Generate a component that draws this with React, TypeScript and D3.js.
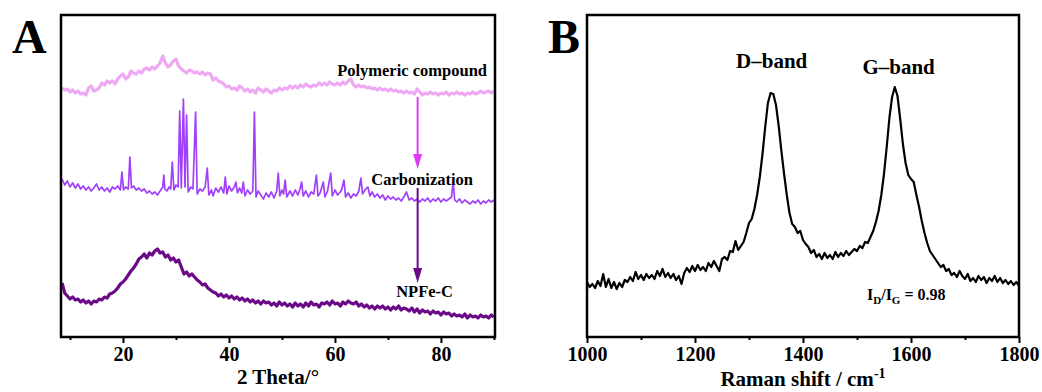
import React, { useEffect, useRef } from 'react';
import * as d3 from 'd3';

// XRD patterns, 2θ from 8.5° in 0.5° steps (a.u.)
const xrdStart = 8.5;
const xrdStep = 0.5;

const polymeric = [
  249, 247, 248, 245, 247, 244, 246, 243, 244, 242,
  249, 251, 246, 247, 249, 254, 252, 256, 254, 256,
  253, 258, 261, 263, 258, 260, 266, 264, 263, 266,
  264, 268, 269, 267, 270, 268, 271, 274, 281, 274,
  270, 272, 276, 278, 271, 268, 266, 264, 267, 266,
  264, 265, 263, 265, 262, 264, 263, 257, 259, 256,
  255, 253, 250, 251, 248, 249, 247, 251, 249, 246,
  248, 245, 247, 244, 249, 247, 245, 248, 246, 244,
  247, 246, 249, 247, 249, 248, 251, 249, 251, 249,
  252, 250, 253, 251, 250, 252, 251, 254, 252, 254,
  252, 255, 253, 252, 254, 252, 255, 253, 256, 258,
  252, 250, 252, 250, 251, 249, 250, 248, 249, 247,
  249, 247, 248, 246, 248, 246, 247, 245, 246, 244,
  246, 244, 245, 243, 248, 245, 242, 244, 243, 245,
  243, 244, 242, 244, 243, 245, 242, 244, 243, 245,
  243, 244, 242, 244, 243, 245, 243, 244, 246, 244,
  245, 246, 244, 246,
];

const npfec = [
  54, 44, 41, 38, 40, 37, 38, 35, 37, 34,
  36, 33, 36, 35, 38, 37, 40, 39, 43, 44,
  46, 49, 53, 55, 58, 62, 66, 69, 73, 78,
  80, 83, 79, 84, 82, 86, 88, 84, 85, 80,
  82, 77, 79, 75, 77, 70, 63, 65, 61, 63,
  60, 57, 55, 52, 53, 49, 47, 45, 44, 41,
  43, 40, 42, 39, 41, 38, 40, 37, 39, 36,
  38, 35, 37, 34, 36, 33, 36, 34, 35, 32,
  34, 31, 35, 32, 34, 31, 33, 30, 34, 31,
  33, 30, 34, 31, 35, 32, 33, 30, 34, 33,
  35, 32, 36, 33, 34, 31, 35, 33, 36, 34,
  33, 35, 31, 33, 30, 32, 29, 31, 28, 31,
  29, 31, 28, 30, 27, 30, 28, 31, 27, 29,
  28, 26, 29, 25, 28, 24, 27, 25, 26, 23,
  26, 24, 25, 22, 25, 23, 24, 21, 23, 21,
  22, 20, 23, 19, 22, 20, 21, 19, 22, 20,
  21, 19, 22, 20,
];

// carbonized intermediate: [2θ, intensity], sharp reflections
const carbonization = [
  [8.5, 158], [9, 152], [9.5, 156], [10, 150], [10.5, 154], [11, 149], [11.5, 153], [12, 148], [12.5, 151], [13, 147],
  [13.5, 150], [14, 146], [14.5, 149], [15, 153], [15.5, 147], [16, 150], [16.5, 146], [17, 149], [17.5, 145], [18, 150],
  [18.5, 148], [19, 151], [19.5, 147], [19.8, 165], [20.1, 147], [20.5, 150], [21, 148], [21.3, 180], [21.6, 149], [22, 151],
  [22.5, 147], [23, 149], [23.5, 146], [24, 148], [24.5, 144], [25, 146], [25.5, 143], [26, 145], [26.5, 142], [27, 146],
  [27.5, 150], [27.7, 162], [27.9, 148], [28.3, 146], [28.7, 150], [29.0, 148], [29.3, 175], [29.6, 147], [30.0, 152], [30.4, 150],
  [30.7, 226], [31.0, 149], [31.4, 238], [31.7, 150], [32.0, 222], [32.3, 145], [32.8, 150], [33.2, 148], [33.7, 225], [34.0, 143],
  [34.5, 148], [35.0, 146], [35.5, 150], [35.9, 169], [36.2, 142], [36.7, 147], [37.0, 141], [37.5, 149], [38.0, 145], [38.5, 150],
  [39.0, 144], [39.3, 160], [39.6, 143], [40.0, 151], [40.5, 146], [41.0, 150], [41.3, 155], [41.6, 144], [42.0, 149], [42.4, 144],
  [42.7, 155], [43.0, 141], [43.5, 147], [44.0, 143], [44.5, 146], [44.8, 225], [45.1, 140], [45.5, 146], [46.0, 142], [46.5, 138],
  [47.0, 144], [47.5, 140], [48.0, 145], [48.5, 139], [49.0, 146], [49.3, 164], [49.6, 141], [50.0, 147], [50.3, 143], [50.6, 157],
  [50.9, 140], [51.5, 146], [52.0, 141], [52.5, 147], [53.0, 142], [53.4, 148], [53.7, 155], [54.0, 141], [54.5, 146], [55.0, 140],
  [55.5, 145], [56.0, 143], [56.5, 162], [56.8, 141], [57.2, 144], [57.8, 155], [58.1, 140], [58.6, 146], [59.2, 164], [59.5, 141],
  [60.0, 147], [60.5, 142], [61.0, 145], [61.3, 148], [61.7, 157], [62.0, 140], [62.5, 144], [63.0, 139], [63.5, 143], [64.0, 141],
  [64.5, 146], [64.9, 159], [65.2, 143], [65.8, 148], [66.2, 150], [66.6, 141], [67.0, 145], [67.5, 140], [68.0, 143], [68.5, 139],
  [69.0, 142], [69.5, 137], [70.0, 141], [70.5, 138], [71.0, 140], [71.5, 137], [72.0, 139], [72.5, 136], [73.0, 140], [73.5, 145],
  [74.0, 137], [74.5, 139], [75.0, 136], [75.5, 138], [76.0, 135], [76.5, 138], [77.0, 136], [77.5, 139], [78.0, 135], [78.5, 138],
  [79.0, 136], [79.5, 139], [80.0, 135], [80.5, 138], [81.0, 136], [81.5, 138], [82.0, 140], [82.3, 155], [82.6, 137], [83.0, 135],
  [83.5, 138], [84.0, 134], [84.5, 137], [85.0, 135], [85.5, 133], [86.0, 136], [86.5, 134], [87.0, 137], [87.5, 133], [88.0, 136],
  [88.5, 134], [89.0, 137], [89.5, 135], [90.0, 137],
];

// Raman spectrum, 1000-1800 cm-1 in 5 cm-1 steps (a.u.)
const ramanStart = 1000;
const ramanStep = 5;
const raman = [
  55, 50, 53, 49, 56, 51, 63, 50, 58, 49,
  55, 48, 54, 50, 57, 55, 60, 56, 65, 58,
  62, 57, 63, 59, 62, 58, 66, 61, 68, 60,
  64, 59, 63, 57, 61, 53, 64, 69, 65, 71,
  66, 72, 67, 70, 66, 74, 70, 76, 71, 66,
  78, 80, 77, 86, 85, 96, 87, 91, 95, 104,
  114, 118, 128, 142, 160, 183, 210, 234, 244, 243,
  232, 211, 186, 163, 142, 124, 113, 110, 104, 106,
  97, 93, 90, 84, 87, 80, 83, 78, 84, 79,
  82, 78, 85, 80, 84, 81, 86, 82, 85, 88,
  86, 91, 89, 95, 94, 100, 106, 115, 126, 142,
  163, 190, 219, 240, 250, 241, 218, 193, 174, 162,
  158, 155, 142, 130, 116, 104, 94, 86, 82, 78,
  74, 70, 72, 66, 68, 62, 64, 60, 66, 61,
  58, 63, 56, 59, 55, 61, 57, 60, 54, 59,
  56, 61, 55, 59, 54, 57, 53, 56, 52, 55,
  51,
];

const xrdMajor = [20, 40, 60, 80];
const xrdMinor = [10, 30, 50, 70, 90];
const ramanMajor = [1000, 1200, 1400, 1600, 1800];
const ramanMinor = [1100, 1300, 1500, 1700];

const FONT = 'Liberation Serif, Times New Roman, serif';

const App = () => {
  const svgRef = useRef<SVGSVGElement | null>(null);

  useEffect(() => {
    if (!svgRef.current) return;
    const svg = d3.select(svgRef.current);
    svg.selectAll('*').remove();

    const top = 15;
    const bottom = 337;

    const setFont = (sel, size) =>
      sel.attr('font-family', FONT)
        .attr('font-weight', 'bold')
        .attr('font-size', size)
        .style('font-family', FONT)
        .style('font-weight', 'bold')
        .style('font-size', `${size}px`);

    const drawFrame = (x, major, minor, title, titleY) => {
      const [x0, x1] = x.range();
      const g = svg.append('g');
      g.append('g')
        .attr('transform', `translate(0,${bottom})`)
        .call(d3.axisBottom(x).tickValues(minor).tickSize(3).tickFormat(() => ''))
        .call((a) => a.select('.domain').remove())
        .call((a) => a.selectAll('line').attr('stroke', '#000').attr('stroke-width', 2));
      const ax = g.append('g')
        .attr('transform', `translate(0,${bottom})`)
        .call(d3.axisBottom(x).tickValues(major).tickSize(6).tickPadding(4).tickFormat(d3.format('d')));
      ax.attr('font-family', FONT);
      ax.select('.domain').remove();
      ax.selectAll('line').attr('stroke', '#000').attr('stroke-width', 2);
      setFont(ax.selectAll('text').attr('fill', '#000'), 20);
      g.append('rect')
        .attr('x', x0)
        .attr('y', top)
        .attr('width', x1 - x0)
        .attr('height', bottom - top)
        .attr('fill', 'none')
        .attr('stroke', '#000')
        .attr('stroke-width', 2.5);
      const t = g.append('text')
        .attr('x', (x0 + x1) / 2)
        .attr('y', titleY)
        .attr('text-anchor', 'middle');
      setFont(t, 21);
      title(t);
    };

    const label = (x, y, txt, size, anchor = 'start') =>
      setFont(
        svg.append('text').attr('x', x).attr('y', y).attr('text-anchor', anchor).text(txt),
        size,
      );

    // ---------- panel A ----------
    const xA = d3.scaleLinear().domain([8.3, 90.2]).range([61, 495]);
    const yA = d3.scaleLinear().domain([0, 322]).range([bottom, top]);

    const idxLine = d3.line<number>()
      .x((d, i) => xA(xrdStart + i * xrdStep))
      .y((d) => yA(d));
    const pairLine = d3.line<number[]>()
      .x((d) => xA(d[0]))
      .y((d) => yA(d[1]));

    const clipA = svg.append('clipPath').attr('id', 'clipA');
    clipA.append('rect').attr('x', 61).attr('y', top).attr('width', 434).attr('height', bottom - top);
    const gA = svg.append('g').attr('clip-path', 'url(#clipA)');

    gA.append('path').attr('d', idxLine(polymeric)).attr('fill', 'none')
      .attr('stroke', '#efa8f3').attr('stroke-width', 3.2).attr('stroke-linejoin', 'round');
    gA.append('path').attr('d', pairLine(carbonization)).attr('fill', 'none')
      .attr('stroke', '#a040fa').attr('stroke-width', 1.7).attr('stroke-linejoin', 'round');
    gA.append('path').attr('d', idxLine(npfec)).attr('fill', 'none')
      .attr('stroke', '#6a0a88').attr('stroke-width', 3.2).attr('stroke-linejoin', 'round');

    // arrows
    const arrow = (xv, yFrom, yTo, color) => {
      const ax = xA(xv);
      const y1 = yA(yFrom);
      const y2 = yA(yTo);
      svg.append('line').attr('x1', ax).attr('x2', ax).attr('y1', y1).attr('y2', y2 - 12)
        .attr('stroke', color).attr('stroke-width', 2);
      svg.append('path')
        .attr('d', `M${ax - 4.5},${y2 - 15} L${ax + 4.5},${y2 - 15} L${ax},${y2} Z`)
        .attr('fill', color);
    };
    arrow(75.6, 240, 168, '#e03cf8');
    arrow(75.6, 149, 54, '#6a0a88');

    label(487, 76, 'Polymeric compound', 16.5, 'end');
    label(473, 185, 'Carbonization', 16.5, 'end');
    label(453, 297, 'NPFe-C', 16.5, 'end');

    drawFrame(xA, xrdMajor, xrdMinor, (t) => t.text('2 Theta/°'), 384);
    label(12, 53, 'A', 48);

    // ---------- panel B ----------
    const xB = d3.scaleLinear().domain([1000, 1800]).range([587, 1019]);
    const yB = d3.scaleLinear().domain([0, 322]).range([bottom, top]);

    const ramanLine = d3.line<number>()
      .x((d, i) => xB(ramanStart + i * ramanStep))
      .y((d) => yB(d));
    svg.append('path').attr('d', ramanLine(raman)).attr('fill', 'none')
      .attr('stroke', '#000').attr('stroke-width', 2.2).attr('stroke-linejoin', 'round');

    label(xB(1342), 68, 'D–band', 21, 'middle');
    label(xB(1577), 74, 'G–band', 21, 'middle');

    const ratio = svg.append('text').attr('x', 867).attr('y', 300);
    setFont(ratio, 16);
    ratio.append('tspan').text('I');
    ratio.append('tspan').attr('dy', 4).style('font-size', '11px').text('D');
    ratio.append('tspan').attr('dy', -4).text('/I');
    ratio.append('tspan').attr('dy', 4).style('font-size', '11px').text('G');
    ratio.append('tspan').attr('dy', -4).text(' = 0.98');

    drawFrame(xB, ramanMajor, ramanMinor, (t) => {
      t.append('tspan').text('Raman shift / cm');
      t.append('tspan').attr('dy', -8).style('font-size', '14px').text('-1');
    }, 386);
    label(548, 53, 'B', 48);
  }, []);

  return (
    <svg
      ref={svgRef}
      width={1042}
      height={392}
      fontFamily={FONT}
      style={{ position: 'absolute', left: 0, top: 0, background: '#fff' }}
    />
  );
};

export default App;
